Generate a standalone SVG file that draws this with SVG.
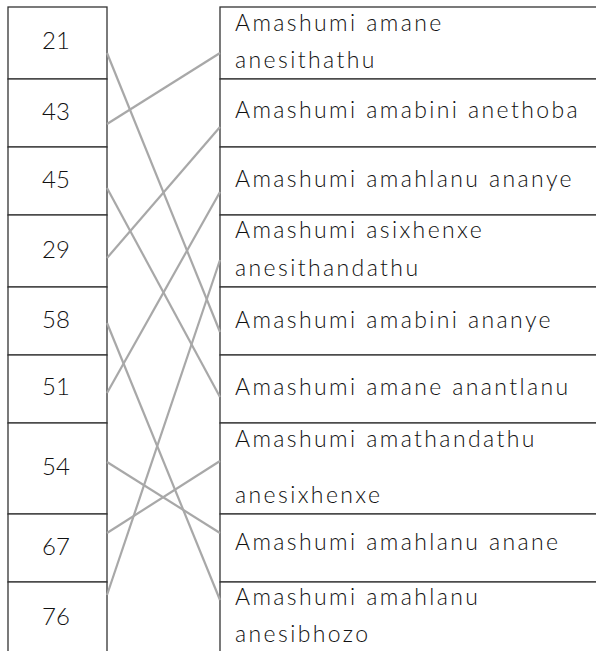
<svg xmlns="http://www.w3.org/2000/svg" width="596" height="651" viewBox="0 0 596 651">
<style>
.cell{fill:#fff;stroke:#333;stroke-width:1.3}
.num{font-family:Lato,"Liberation Sans",sans-serif;font-weight:300;font-size:24px;fill:#111;text-anchor:middle}
.lbl{font-family:Lato,"Liberation Sans",sans-serif;font-weight:300;font-size:23px;letter-spacing:2.4px;fill:#111}
.conn line{stroke:#a8a8a8;stroke-width:2.2;fill:none}
</style>
<rect width="596" height="651" fill="#fff"/>
<g id="left">
<g id="n21"><rect class="cell" x="8" y="7" width="99" height="72"/><text class="num" x="56" y="49">21</text></g>
<g id="n43"><rect class="cell" x="8" y="79" width="99" height="68"/><text class="num" x="56" y="120">43</text></g>
<g id="n45"><rect class="cell" x="8" y="147" width="99" height="68"/><text class="num" x="56" y="188">45</text></g>
<g id="n29"><rect class="cell" x="8" y="215" width="99" height="72"/><text class="num" x="56" y="258">29</text></g>
<g id="n58"><rect class="cell" x="8" y="287" width="99" height="68"/><text class="num" x="56" y="328">58</text></g>
<g id="n51"><rect class="cell" x="8" y="355" width="99" height="68"/><text class="num" x="56" y="395">51</text></g>
<g id="n54"><rect class="cell" x="8" y="423" width="99" height="91"/><text class="num" x="56" y="475">54</text></g>
<g id="n67"><rect class="cell" x="8" y="514" width="99" height="68"/><text class="num" x="56" y="555">67</text></g>
<g id="n76"><rect class="cell" x="8" y="582" width="99" height="80"/><text class="num" x="56" y="625">76</text></g>
</g>
<g id="right">
<g id="r1"><rect class="cell" x="220" y="7" width="390" height="72"/><text class="lbl" x="235" y="31">Amashumi amane</text><text class="lbl" x="235" y="68">anesithathu</text></g>
<g id="r2"><rect class="cell" x="220" y="79" width="390" height="68"/><text class="lbl" x="235" y="118">Amashumi amabini anethoba</text></g>
<g id="r3"><rect class="cell" x="220" y="147" width="390" height="68"/><text class="lbl" x="235" y="187">Amashumi amahlanu ananye</text></g>
<g id="r4"><rect class="cell" x="220" y="215" width="390" height="72"/><text class="lbl" x="235" y="238">Amashumi asixhenxe</text><text class="lbl" x="235" y="276">anesithandathu</text></g>
<g id="r5"><rect class="cell" x="220" y="287" width="390" height="68"/><text class="lbl" x="235" y="328">Amashumi amabini ananye</text></g>
<g id="r6"><rect class="cell" x="220" y="355" width="390" height="68"/><text class="lbl" x="235" y="395">Amashumi amane anantlanu</text></g>
<g id="r7"><rect class="cell" x="220" y="423" width="390" height="91"/><text class="lbl" x="235" y="447">Amashumi amathandathu</text><text class="lbl" x="235" y="503">anesixhenxe</text></g>
<g id="r8"><rect class="cell" x="220" y="514" width="390" height="68"/><text class="lbl" x="235" y="550">Amashumi amahlanu anane</text></g>
<g id="r9"><rect class="cell" x="220" y="582" width="390" height="80"/><text class="lbl" x="235" y="605">Amashumi amahlanu</text><text class="lbl" x="235" y="642">anesibhozo</text></g>
</g>
<g id="connectors" class="conn">
<line x1="107" y1="53" x2="220" y2="332"/>
<line x1="107" y1="124" x2="220" y2="53"/>
<line x1="107" y1="188" x2="220" y2="397"/>
<line x1="107" y1="258" x2="220" y2="127"/>
<line x1="107" y1="323" x2="220" y2="600"/>
<line x1="107" y1="393" x2="220" y2="192"/>
<line x1="107" y1="462" x2="220" y2="533"/>
<line x1="107" y1="533" x2="220" y2="461"/>
<line x1="107" y1="595" x2="220" y2="260"/>
</g>
</svg>
